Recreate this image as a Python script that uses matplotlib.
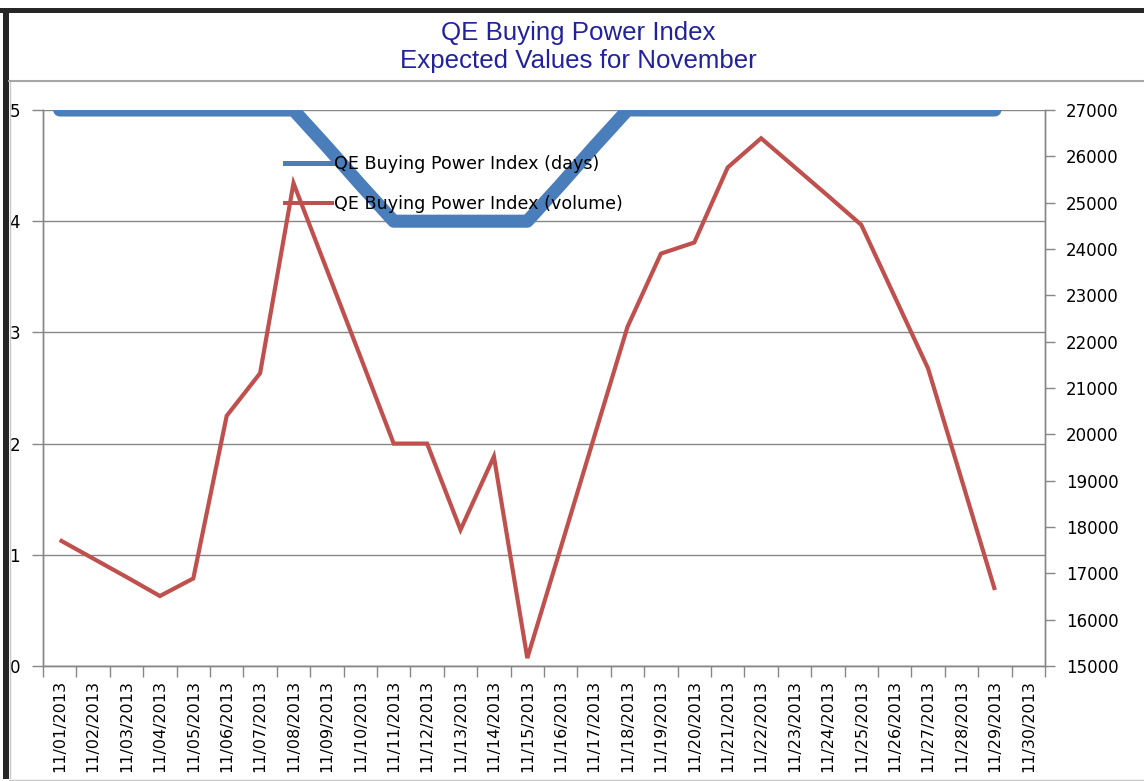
import matplotlib
matplotlib.use("Agg")
import matplotlib.pyplot as plt
from matplotlib.lines import Line2D
from matplotlib.patches import Rectangle
import numpy as np

# ---------------- DATA ----------------
dates = ["11/%02d/2013" % d for d in range(1, 31)]

days = [5, 5, 5, 5, 5, 5, 5, 5, 4.67, 4.33,
        4, 4, 4, 4, 4, 4.33, 4.67, 5, 5, 5,
        5, 5, 5, 5, 5, 5, 5, 5, 5, np.nan]

volume = [17720, 17320, 16920, 16510, 16890, 20400, 21320, 25420, 23550, 21680,
          19800, 19800, 17940, 19520, 15170, 17550, 19940, 22320, 23900, 24140,
          25760, 26390, 25770, 25150, 24520, 22970, 21420, 19030, 16640, np.nan]

label_days = "QE Buying Power Index (days)"
label_vol = "QE Buying Power Index (volume)"
title = "QE Buying Power Index\nExpected Values for November"

BLUE = "#4A7EBB"
RED = "#C0504D"
GRID = "#868686"

W, H = 1144, 781
fig = plt.figure(figsize=(W / 100, H / 100), dpi=100)
fig.patch.set_facecolor("white")

ax = fig.add_axes([43 / W, 1 - 666 / H, (1045 - 43) / W, (666 - 110) / H])
ax2 = ax.twinx()

x = np.arange(len(dates))

# ---------------- SERIES ----------------
ax.plot(x, days, color=BLUE, lw=9.4, solid_capstyle="round", solid_joinstyle="round")
ax2.plot(x, volume, color=RED, lw=3.0, solid_capstyle="butt", solid_joinstyle="miter")

# ---------------- AXES ----------------
ax.set_xlim(-0.5, len(dates) - 0.5)
ax.set_ylim(0, 5)
ax2.set_ylim(15000, 27000)
ax.set_yticks(range(0, 6))
ax2.set_yticks(range(15000, 27001, 1000))

ax.set_xticks(np.arange(-0.5, len(dates)), minor=False)
ax.set_xticklabels([])
ax.set_xticks(x, minor=True)
ax.set_xticklabels(dates, minor=True, rotation=90, fontsize=11.5, family="DejaVu Sans")
ax.tick_params(axis="x", which="major", length=8, width=1, color=GRID, direction="out")
ax.tick_params(axis="x", which="minor", length=0, pad=10)

ax.tick_params(axis="y", length=8, width=1, color=GRID, direction="out", pad=8.5, labelsize=12)
ax2.tick_params(axis="y", length=7, width=1, color=GRID, direction="out", pad=8, labelsize=12)

ax.grid(axis="y", color=GRID, lw=1)
ax.set_axisbelow(True)
for a in (ax, ax2):
    a.spines["top"].set_visible(False)
    for s in ("left", "right", "bottom"):
        a.spines[s].set_color(GRID)
        a.spines[s].set_linewidth(1)
ax.set_zorder(1)
ax2.set_zorder(2)
ax2.patch.set_visible(False)

# ---------------- LEGEND ----------------
handles = [Line2D([], [], color=BLUE, lw=3.6),
           Line2D([], [], color=RED, lw=2.9)]
ax2.legend(handles, [label_days, label_vol], loc="upper left",
           bbox_to_anchor=((285 - 43) / 1002, (666 - 155) / 556),
           frameon=False, fontsize=12.6, handlelength=2.7, handletextpad=0.1,
           labelspacing=1.25, borderpad=0, borderaxespad=0)

# ---------------- TITLE + FRAME ----------------
fig.text(578 / W, 1 - 47 / H, title, ha="center", va="center", fontsize=18.6,
         family="Liberation Sans", color="#22229B", linespacing=1.2)

fig.add_artist(Rectangle((0, 1 - 13 / H), 1, 5 / H, transform=fig.transFigure,
                         color="#262626", lw=0))
fig.add_artist(Rectangle((3 / W, 1 - 779 / H), 6 / W, (779 - 8) / H,
                         transform=fig.transFigure, color="#262626", lw=0))
fig.add_artist(Line2D([9 / W, 1], [1 - 81 / H] * 2, transform=fig.transFigure,
                      color="#A6A6A6", lw=1.5))
fig.add_artist(Line2D([10 / W, 10 / W], [1 - 82 / H, 1 - 778 / H],
                      transform=fig.transFigure, color="#C8C8C8", lw=1))
fig.add_artist(Line2D([9 / W, 1], [1 - 779.5 / H] * 2, transform=fig.transFigure,
                      color="#C8C8C8", lw=1))

fig.savefig("out.png", dpi=100)
